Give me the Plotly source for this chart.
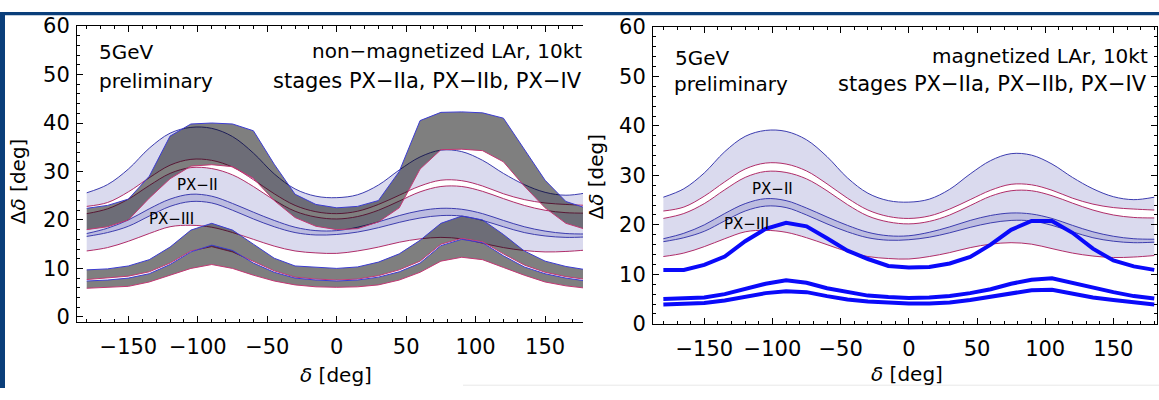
import plotly.graph_objects as go

# ---------------- data ----------------
delta = [-180, -165, -150, -135, -120, -105, -90, -75, -60, -45, -30, -15, 0,
         15, 30, 45, 60, 75, 90, 105, 120, 135, 150, 165, 180]

# smooth bands (both panels)
band1_upper = [25.6, 27.3, 30.5, 34.8, 37.9, 39.1, 38.9, 37.2, 33.8, 29.5, 26.4, 24.9, 24.6,
               25.2, 27.2, 30.3, 33.0, 34.4, 34.1, 32.3, 29.6, 27.3, 25.7, 25.1, 25.6]
band1_lower = [22.8, 23.6, 25.8, 28.7, 31.3, 32.5, 32.3, 30.9, 28.3, 25.4, 23.0, 21.7, 21.3,
               21.8, 23.2, 25.1, 27.0, 28.2, 28.1, 27.0, 25.4, 24.2, 23.5, 23.2, 23.0]
px2_upper = [21.3, 22.3, 24.3, 27.1, 29.6, 30.8, 30.6, 29.3, 26.9, 24.1, 21.8, 20.6, 20.2,
             20.7, 22.0, 23.9, 25.8, 26.9, 26.9, 25.9, 24.4, 23.0, 22.0, 21.5, 21.4]
px2_lower = [16.6, 17.4, 18.7, 20.8, 22.8, 23.8, 23.5, 22.0, 20.2, 18.6, 17.4, 16.9, 17.0,
             17.5, 18.4, 19.5, 20.4, 20.9, 20.8, 19.9, 18.6, 17.4, 16.7, 16.4, 16.5]
px3_upper = [17.2, 18.3, 20.0, 22.3, 24.3, 25.3, 24.9, 23.4, 21.6, 19.9, 18.5, 17.8, 17.8,
             18.5, 19.6, 20.9, 21.9, 22.4, 22.2, 21.3, 19.9, 18.6, 17.7, 17.2, 17.1]
px3_lower = [13.6, 14.3, 15.6, 17.2, 18.6, 18.9, 18.5, 17.4, 16.0, 14.6, 13.6, 13.2, 13.1,
             13.6, 14.4, 15.4, 16.1, 16.4, 16.1, 15.2, 14.3, 13.7, 13.4, 13.5, 13.8]

# gray bands, non-magnetized LAr (left panel)
g1_upper = [22.4, 23.0, 24.3, 29.0, 37.3, 39.8, 40.0, 39.8, 38.4, 31.5, 25.3, 23.2, 22.5,
            22.8, 24.0, 30.0, 40.5, 42.2, 42.3, 42.1, 41.0, 34.5, 28.2, 23.8, 22.4]
g1_lower = [18.0, 18.6, 20.0, 24.5, 28.5, 31.1, 31.4, 31.0, 28.6, 24.0, 20.5, 18.7, 18.0,
            18.2, 19.6, 22.5, 30.5, 34.5, 34.6, 34.3, 32.0, 27.0, 22.5, 19.3, 18.0]
g2_upper = [9.7, 9.9, 10.5, 11.8, 14.4, 17.9, 19.3, 17.9, 15.0, 12.1, 10.5, 10.2, 10.0,
            10.3, 11.3, 13.0, 15.8, 19.3, 20.8, 20.0, 17.0, 13.6, 11.5, 10.4, 9.7]
g2_lower = [7.7, 8.0, 8.4, 9.3, 11.1, 13.6, 14.5, 13.4, 11.5, 9.5, 8.2, 7.8, 7.6,
            7.8, 8.5, 9.7, 11.5, 15.0, 16.2, 15.5, 13.0, 10.7, 9.2, 8.3, 7.7]
g3_upper = [7.4, 7.6, 8.0, 8.9, 10.8, 13.4, 14.8, 13.7, 11.1, 9.2, 8.0, 7.6, 7.4,
            7.6, 8.2, 9.3, 11.1, 14.7, 16.0, 15.3, 12.6, 10.3, 8.9, 8.0, 7.4]
g3_lower = [5.9, 6.1, 6.3, 7.2, 8.6, 10.0, 10.8, 10.0, 8.6, 7.4, 6.6, 6.2, 6.1,
            6.2, 6.6, 7.6, 9.2, 11.5, 12.3, 11.8, 10.2, 8.6, 7.2, 6.4, 5.9]

# thick lines, magnetized LAr (right panel)
m_line1 = [10.9, 10.9, 11.9, 13.6, 16.7, 19.2, 20.4, 19.7, 17.3, 14.8, 13.1, 11.7, 11.4,
           11.5, 12.2, 13.5, 16.0, 19.0, 20.8, 20.8, 18.4, 15.2, 12.8, 11.6, 10.9]
m_line2 = [5.0, 5.1, 5.3, 6.0, 7.0, 8.1, 8.8, 8.3, 7.2, 6.4, 5.7, 5.4, 5.2,
           5.3, 5.6, 6.2, 7.0, 8.1, 8.9, 9.2, 8.2, 7.3, 6.4, 5.6, 5.1]
m_line3 = [3.9, 4.0, 4.2, 4.7, 5.5, 6.2, 6.6, 6.4, 5.6, 4.9, 4.5, 4.2, 4.1,
           4.1, 4.3, 4.8, 5.5, 6.0, 6.8, 6.9, 6.1, 5.3, 4.8, 4.3, 3.9]

x_ticks = [-150, -100, -50, 0, 50, 100, 150]
y_ticks = [0, 10, 20, 30, 40, 50, 60]

# ---------------- style ----------------
W, H = 1159, 400
FONT = "DejaVu Sans"
BLUE = "rgb(60,60,175)"
PINK = "rgb(175,45,105)"
LAV = "rgba(70,70,170,0.2)"
GRAY = "rgba(0,0,0,0.5)"
GBLUE = "rgb(60,60,210)"
GPINK = "rgb(195,55,115)"
THICK = "rgb(10,10,250)"


def px(x):
    return x / W


def py(y):
    return 1 - y / H


fig = go.Figure()


def band(lo, hi, c_lo, c_hi, fillc, shape, xa, ya):
    fig.add_trace(go.Scatter(x=delta, y=lo, mode="lines", xaxis=xa, yaxis=ya,
                             line=dict(color=c_lo, width=1, shape=shape),
                             hoverinfo="skip", showlegend=False))
    fig.add_trace(go.Scatter(x=delta, y=hi, mode="lines", xaxis=xa, yaxis=ya,
                             line=dict(color=c_hi, width=1, shape=shape),
                             fill="tonexty", fillcolor=fillc,
                             hoverinfo="skip", showlegend=False))


for xa, ya in (("x", "y"), ("x2", "y2")):
    band(band1_lower, band1_upper, PINK, BLUE, LAV, "spline", xa, ya)
    band(px2_lower, px2_upper, BLUE, PINK, LAV, "spline", xa, ya)
    band(px3_lower, px3_upper, PINK, BLUE, LAV, "spline", xa, ya)
    if xa == "x":
        band(g1_lower, g1_upper, GPINK, GBLUE, GRAY, "linear", xa, ya)
        band(g2_lower, g2_upper, GPINK, GBLUE, GRAY, "linear", xa, ya)
        band(g3_lower, g3_upper, GPINK, GBLUE, GRAY, "linear", xa, ya)
    else:
        for ln in (m_line1, m_line2, m_line3):
            fig.add_trace(go.Scatter(x=delta, y=ln, mode="lines", xaxis=xa, yaxis=ya,
                                     line=dict(color=THICK, width=4),
                                     hoverinfo="skip", showlegend=False))

tickfont = dict(family=FONT, size=21, color="black")
common_x = dict(tickvals=x_ticks, ticks="inside", ticklen=6, tickwidth=1, tickcolor="black",
                minor=dict(dtick=10, tick0=0, ticks="inside", ticklen=3, tickcolor="black"),
                showline=True, linecolor="black", linewidth=1, mirror="ticks",
                showgrid=False, zeroline=False, tickfont=tickfont, ticklabelstandoff=6)
common_y = dict(tickvals=y_ticks, ticks="inside", ticklen=6, tickwidth=1, tickcolor="black",
                minor=dict(dtick=2, tick0=0, ticks="inside", ticklen=3, tickcolor="black"),
                showline=True, linecolor="black", linewidth=1,
                showgrid=False, zeroline=False, tickfont=tickfont, ticklabelstandoff=2)

fig.update_layout(
    width=W, height=H,
    margin=dict(l=0, r=0, t=0, b=0),
    paper_bgcolor="white", plot_bgcolor="white",
    showlegend=False,
    xaxis=dict(domain=[px(77), px(583)], range=[-187.0, 177.3], anchor="y", **common_x),
    yaxis=dict(domain=[py(330), py(15)], range=[-1.1, 60], anchor="x", mirror=False, **common_y),
    xaxis2=dict(domain=[px(653), px(1157)], range=[-187.6, 182.0], anchor="y2", **common_x),
    yaxis2=dict(domain=[py(331.7), py(16)], range=[0, 60], anchor="x2", mirror="ticks", **common_y),
)

ann = []


def txt(t, x, y, xanchor, size=20, angle=0):
    ann.append(dict(text=t, x=px(x), y=py(y), xref="paper", yref="paper",
                    xanchor=xanchor, yanchor="middle", showarrow=False, textangle=angle,
                    font=dict(family=FONT, size=size, color="black")))


txt("5GeV", 97, 43, "left")
txt("preliminary", 97, 73, "left")
txt("non\u2212magnetized LAr, 10kt", 584, 42, "right")
txt("stages PX\u2212IIa, PX\u2212IIb, PX\u2212IV", 584, 73, "right", size=21)
txt("5GeV", 673, 49, "left")
txt("preliminary", 672, 77, "left")
txt("magnetized LAr, 10kt", 1150, 47, "right")
txt("stages PX\u2212IIa, PX\u2212IIb, PX\u2212IV", 1149, 77, "right", size=21)
txt("<i>\u03b4</i> [deg]", 336, 386, "center")
txt("<i>\u03b4</i> [deg]", 907, 385, "center")
txt("\u0394<i>\u03b4</i> [deg]", 18, 180, "center", angle=-90)
txt("\u0394<i>\u03b4</i> [deg]", 595, 175, "center", angle=-90)

for xr, yr in (("x", "y"), ("x2", "y2")):
    ann.append(dict(text="PX\u2212II", x=-100, y=27.3, xref=xr, yref=yr, showarrow=False,
                    font=dict(family=FONT, size=15, color="black")))
    ann.append(dict(text="PX\u2212III", x=-119, y=20.2, xref=xr, yref=yr, showarrow=False,
                    font=dict(family=FONT, size=15, color="black")))

fig.update_layout(annotations=ann)

BORDER = "rgb(10,62,122)"
fig.update_layout(shapes=[
    dict(type="rect", xref="paper", yref="paper", x0=0, x1=1, y0=py(3.5), y1=1,
         fillcolor=BORDER, line=dict(width=0), layer="above"),
    dict(type="rect", xref="paper", yref="paper", x0=0, x1=px(5), y0=0, y1=1,
         fillcolor=BORDER, line=dict(width=0), layer="above"),
    dict(type="line", xref="paper", yref="paper", x0=px(463), x1=1, y0=py(397), y1=py(397),
         line=dict(color="rgb(232,232,232)", width=1), layer="above"),
])

fig.write_html("out.html")
